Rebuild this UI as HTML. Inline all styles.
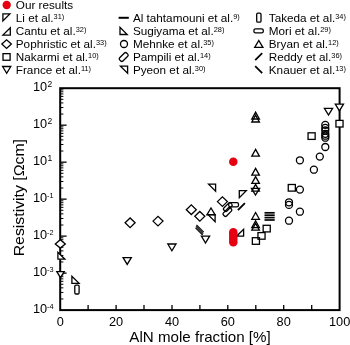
<!DOCTYPE html>
<html><head><meta charset="utf-8"><title>Resistivity vs AlN mole fraction</title>
<style>
html,body{margin:0;padding:0;background:#fff;}
body{width:350px;height:345px;overflow:hidden;}
svg{display:block;will-change:transform;font-family:"Liberation Sans",sans-serif;fill:#000;}
.m{fill:#fff;stroke:#000;stroke-width:1.3;stroke-linejoin:miter;}
.open .m{fill:none;}
</style></head><body>
<svg width="350" height="345" viewBox="0 0 350 345">
<rect width="350" height="345" fill="#fff"/>
<rect x="60.2" y="88.2" width="279.4" height="221.9" fill="none" stroke="#000" stroke-width="2"/>
<path d="M88.1 310.1V305.1" stroke="#000" stroke-width="1.3"/>
<path d="M116.1 310.1V305.1" stroke="#000" stroke-width="1.3"/>
<path d="M144.0 310.1V305.1" stroke="#000" stroke-width="1.3"/>
<path d="M172.0 310.1V305.1" stroke="#000" stroke-width="1.3"/>
<path d="M199.9 310.1V305.1" stroke="#000" stroke-width="1.3"/>
<path d="M227.8 310.1V305.1" stroke="#000" stroke-width="1.3"/>
<path d="M255.8 310.1V305.1" stroke="#000" stroke-width="1.3"/>
<path d="M283.7 310.1V305.1" stroke="#000" stroke-width="1.3"/>
<path d="M311.7 310.1V305.1" stroke="#000" stroke-width="1.3"/>
<path d="M60.2 114.05H63.4" stroke="#000" stroke-width="1"/>
<path d="M60.2 107.54H63.4" stroke="#000" stroke-width="1"/>
<path d="M60.2 102.92H63.4" stroke="#000" stroke-width="1"/>
<path d="M60.2 99.33H63.4" stroke="#000" stroke-width="1"/>
<path d="M60.2 96.40H63.4" stroke="#000" stroke-width="1"/>
<path d="M60.2 93.93H63.4" stroke="#000" stroke-width="1"/>
<path d="M60.2 91.78H63.4" stroke="#000" stroke-width="1"/>
<path d="M60.2 89.89H63.4" stroke="#000" stroke-width="1"/>
<path d="M60.2 151.03H63.4" stroke="#000" stroke-width="1"/>
<path d="M60.2 144.52H63.4" stroke="#000" stroke-width="1"/>
<path d="M60.2 139.90H63.4" stroke="#000" stroke-width="1"/>
<path d="M60.2 136.32H63.4" stroke="#000" stroke-width="1"/>
<path d="M60.2 133.39H63.4" stroke="#000" stroke-width="1"/>
<path d="M60.2 130.91H63.4" stroke="#000" stroke-width="1"/>
<path d="M60.2 128.77H63.4" stroke="#000" stroke-width="1"/>
<path d="M60.2 126.88H63.4" stroke="#000" stroke-width="1"/>
<path d="M60.2 125.18H66.6" stroke="#000" stroke-width="1.3"/>
<path d="M60.2 188.02H63.4" stroke="#000" stroke-width="1"/>
<path d="M60.2 181.50H63.4" stroke="#000" stroke-width="1"/>
<path d="M60.2 176.88H63.4" stroke="#000" stroke-width="1"/>
<path d="M60.2 173.30H63.4" stroke="#000" stroke-width="1"/>
<path d="M60.2 170.37H63.4" stroke="#000" stroke-width="1"/>
<path d="M60.2 167.90H63.4" stroke="#000" stroke-width="1"/>
<path d="M60.2 165.75H63.4" stroke="#000" stroke-width="1"/>
<path d="M60.2 163.86H63.4" stroke="#000" stroke-width="1"/>
<path d="M60.2 162.17H66.6" stroke="#000" stroke-width="1.3"/>
<path d="M60.2 225.00H63.4" stroke="#000" stroke-width="1"/>
<path d="M60.2 218.49H63.4" stroke="#000" stroke-width="1"/>
<path d="M60.2 213.87H63.4" stroke="#000" stroke-width="1"/>
<path d="M60.2 210.28H63.4" stroke="#000" stroke-width="1"/>
<path d="M60.2 207.35H63.4" stroke="#000" stroke-width="1"/>
<path d="M60.2 204.88H63.4" stroke="#000" stroke-width="1"/>
<path d="M60.2 202.73H63.4" stroke="#000" stroke-width="1"/>
<path d="M60.2 200.84H63.4" stroke="#000" stroke-width="1"/>
<path d="M60.2 199.15H66.6" stroke="#000" stroke-width="1.3"/>
<path d="M60.2 261.98H63.4" stroke="#000" stroke-width="1"/>
<path d="M60.2 255.47H63.4" stroke="#000" stroke-width="1"/>
<path d="M60.2 250.85H63.4" stroke="#000" stroke-width="1"/>
<path d="M60.2 247.27H63.4" stroke="#000" stroke-width="1"/>
<path d="M60.2 244.34H63.4" stroke="#000" stroke-width="1"/>
<path d="M60.2 241.86H63.4" stroke="#000" stroke-width="1"/>
<path d="M60.2 239.72H63.4" stroke="#000" stroke-width="1"/>
<path d="M60.2 237.83H63.4" stroke="#000" stroke-width="1"/>
<path d="M60.2 236.13H66.6" stroke="#000" stroke-width="1.3"/>
<path d="M60.2 298.97H63.4" stroke="#000" stroke-width="1"/>
<path d="M60.2 292.45H63.4" stroke="#000" stroke-width="1"/>
<path d="M60.2 287.83H63.4" stroke="#000" stroke-width="1"/>
<path d="M60.2 284.25H63.4" stroke="#000" stroke-width="1"/>
<path d="M60.2 281.32H63.4" stroke="#000" stroke-width="1"/>
<path d="M60.2 278.85H63.4" stroke="#000" stroke-width="1"/>
<path d="M60.2 276.70H63.4" stroke="#000" stroke-width="1"/>
<path d="M60.2 274.81H63.4" stroke="#000" stroke-width="1"/>
<path d="M60.2 273.12H66.6" stroke="#000" stroke-width="1.3"/>
<text x="60.2" y="325.6" font-size="12.75" text-anchor="middle" >0</text>
<text x="116.1" y="325.6" font-size="12.75" text-anchor="middle" >20</text>
<text x="172.0" y="325.6" font-size="12.75" text-anchor="middle" >40</text>
<text x="227.8" y="325.6" font-size="12.75" text-anchor="middle" >60</text>
<text x="283.7" y="325.6" font-size="12.75" text-anchor="middle" >80</text>
<text x="339.6" y="325.6" font-size="12.75" text-anchor="middle" >100</text>
<text x="47.2" y="91.3" font-size="12.75" text-anchor="end">10</text>
<text x="47.5" y="86.9" font-size="8.5">2</text>
<text x="47.2" y="128.3" font-size="12.75" text-anchor="end">10</text>
<text x="47.5" y="123.9" font-size="8.5">2</text>
<text x="47.2" y="165.3" font-size="12.75" text-anchor="end">10</text>
<text x="47.5" y="160.9" font-size="8.5">1</text>
<text x="47.2" y="202.2" font-size="12.75" text-anchor="end">10</text>
<text x="47.0" y="198.2" font-size="7.3">&#8208;1</text>
<text x="47.2" y="239.2" font-size="12.75" text-anchor="end">10</text>
<text x="47.0" y="235.1" font-size="7.3">&#8208;2</text>
<text x="47.2" y="276.2" font-size="12.75" text-anchor="end">10</text>
<text x="47.0" y="272.1" font-size="7.3">&#8208;3</text>
<text x="47.2" y="313.2" font-size="12.75" text-anchor="end">10</text>
<text x="47.0" y="309.1" font-size="7.3">&#8208;4</text>
<text x="200.0" y="341.6" font-size="15.15" text-anchor="middle" >AlN mole fraction [%]</text>
<text transform="translate(23.8 256.3) rotate(-90)" font-size="14.4" textLength="117.3" lengthAdjust="spacingAndGlyphs">Resistivity [&#937;cm]</text>
<circle cx="6.7" cy="5.0" r="4.2" fill="#e60012"/>
<text x="15.8" y="9.2" font-size="11.72">Our results</text>
<text x="15.8" y="22.2" font-size="11.72">Li et al.<tspan font-size="7.4" dy="-3.6">31)</tspan></text>
<text x="15.8" y="35.2" font-size="11.72">Cantu et al.<tspan font-size="7.4" dy="-3.6">32)</tspan></text>
<text x="15.8" y="48.2" font-size="11.72">Pophristic et al.<tspan font-size="7.4" dy="-3.6">33)</tspan></text>
<text x="15.8" y="61.3" font-size="11.72">Nakarmi et al.<tspan font-size="7.4" dy="-3.6">10)</tspan></text>
<text x="15.8" y="74.3" font-size="11.72">France et al.<tspan font-size="7.4" dy="-3.6">11)</tspan></text>
<text x="132.9" y="22.2" font-size="11.72">Al tahtamouni et al.<tspan font-size="7.4" dy="-3.6">9)</tspan></text>
<text x="132.9" y="35.2" font-size="11.72">Sugiyama et al.<tspan font-size="7.4" dy="-3.6">28)</tspan></text>
<text x="132.9" y="48.2" font-size="11.72">Mehnke et al.<tspan font-size="7.4" dy="-3.6">35)</tspan></text>
<text x="132.9" y="61.3" font-size="11.72">Pampili et al.<tspan font-size="7.4" dy="-3.6">14)</tspan></text>
<text x="132.9" y="74.3" font-size="11.72">Pyeon et al.<tspan font-size="7.4" dy="-3.6">30)</tspan></text>
<text x="268.8" y="22.2" font-size="11.72">Takeda et al.<tspan font-size="7.4" dy="-3.6">34)</tspan></text>
<text x="268.8" y="35.2" font-size="11.72">Mori et al.<tspan font-size="7.4" dy="-3.6">29)</tspan></text>
<text x="268.8" y="48.2" font-size="11.72">Bryan et al.<tspan font-size="7.4" dy="-3.6">12)</tspan></text>
<text x="268.8" y="61.3" font-size="11.72">Reddy et al.<tspan font-size="7.4" dy="-3.6">36)</tspan></text>
<text x="268.8" y="74.3" font-size="11.72">Knauer et al.<tspan font-size="7.4" dy="-3.6">13)</tspan></text>
<path d="M2.9 13.9L9.9 13.9L2.9 21.0Z" class="m"/>
<path d="M2.9 35.1L10.3 35.1L10.3 27.8Z" class="m"/>
<path d="M1.85 44.10L6.60 39.80L11.35 44.10L6.60 48.40Z" class="m"/>
<rect x="3.00" y="53.65" width="7.1" height="6.6" class="m"/>
<path d="M2.6 66.5L10.8 66.5L6.7 73.3Z" class="m"/>
<path d="M118.6 17.8H128.8" stroke="#000" stroke-width="2.0" fill="none"/>
<path d="M120.0 27.3L120.0 34.5L127.2 34.5Z" class="m"/>
<circle cx="124.0" cy="44.0" r="3.5" class="m"/>
<rect x="121.4" y="52.1" width="4.6" height="9.8" rx="1.5" class="m" transform="rotate(45 123.7 57.0)"/>
<path d="M120.4 66.1L127.6 66.1L127.6 73.3Z" class="m"/>
<rect x="256.7" y="13.2" width="4.3" height="8.9" rx="1.2" class="m"/>
<rect x="253.9" y="28.8" width="9.4" height="4.0" rx="1.6" class="m"/>
<path d="M254.7 47.3L262.9 47.3L258.8 40.5Z" class="m"/>
<path d="M255.2 60.2L262.2 53.2" stroke="#000" stroke-width="1.8" fill="none"/>
<path d="M255.2 66.2L262.2 73.2" stroke="#000" stroke-width="1.8" fill="none"/>
<g class="open">
<path d="M125.10 222.80L130.10 218.00L135.10 222.80L130.10 227.60Z" class="m"/>
<path d="M153.00 221.10L158.00 216.30L163.00 221.10L158.00 225.90Z" class="m"/>
<path d="M186.30 209.70L191.30 204.90L196.30 209.70L191.30 214.50Z" class="m"/>
<path d="M194.80 216.30L199.80 211.50L204.80 216.30L199.80 221.10Z" class="m"/>
<path d="M217.40 201.60L222.40 196.80L227.40 201.60L222.40 206.40Z" class="m"/>
<path d="M123.1 257.6L131.3 257.6L127.2 264.4Z" class="m"/>
<path d="M167.8 244.0L176.0 244.0L171.9 250.8Z" class="m"/>
<path d="M201.4 236.2L209.6 236.2L205.5 243.0Z" class="m"/>
<path d="M251.4 188.3L259.6 188.3L255.5 195.1Z" class="m"/>
<path d="M324.4 108.3L332.6 108.3L328.5 115.1Z" class="m"/>
<path d="M71.9 276.2L71.9 283.4L79.1 283.4Z" class="m"/>
<rect x="74.8" y="285.1" width="4.3" height="8.9" rx="1.2" class="m"/>
<path d="M251.8 119.0L259.4 119.0L255.6 112.2Z" class="m"/>
<path d="M251.8 122.0L259.4 122.0L255.6 115.2Z" class="m"/>
<path d="M251.8 156.2L259.4 156.2L255.6 149.4Z" class="m"/>
<path d="M251.8 175.2L259.4 175.2L255.6 168.4Z" class="m"/>
<path d="M251.8 183.4L259.4 183.4L255.6 176.6Z" class="m"/>
<path d="M251.8 191.2L259.4 191.2L255.6 184.4Z" class="m"/>
<path d="M251.8 219.3L259.4 219.3L255.6 212.5Z" class="m"/>
<path d="M251.8 227.6L259.4 227.6L255.6 220.8Z" class="m"/>
<path d="M251.8 230.2L259.4 230.2L255.6 223.4Z" class="m"/>
<path d="M206.9 214.8L215.1 214.8L211.0 208.0Z" class="m"/>
<path d="M208.1 214.7L215.1 214.7L215.1 221.7Z" class="m"/>
<path d="M208.6 184.2L215.6 184.2L215.6 191.2Z" class="m"/>
<path d="M196.5 225.0L203.7 232.2" stroke="#000" stroke-width="1.15" fill="none"/>
<path d="M196.0 226.4L203.2 233.6" stroke="#000" stroke-width="1.15" fill="none"/>
<path d="M195.5 227.8L202.7 235.0" stroke="#000" stroke-width="1.15" fill="none"/>
<rect x="225.6" y="202.2" width="4.4" height="9.8" rx="1.5" class="m" transform="rotate(45 227.8 207.1)"/>
<rect x="225.2" y="207.1" width="4.4" height="9.8" rx="1.5" class="m" transform="rotate(45 227.4 212.0)"/>
<rect x="228.7" y="202.7" width="9.8" height="4.2" rx="1.6" class="m"/>
<path d="M239.3 190.6L246.3 190.6L239.3 197.6Z" class="m"/>
<path d="M237.9 210.2L244.9 203.2" stroke="#000" stroke-width="1.8" fill="none"/>
<path d="M236.6 236.2L243.6 236.2L243.6 229.2Z" class="m"/>
<path d="M264.5 212.8H274.7" stroke="#000" stroke-width="1.7" fill="none"/>
<path d="M264.5 215.2H274.7" stroke="#000" stroke-width="1.7" fill="none"/>
<path d="M264.5 217.6H274.7" stroke="#000" stroke-width="1.7" fill="none"/>
<path d="M264.5 220.0H274.7" stroke="#000" stroke-width="1.7" fill="none"/>
<rect x="263.15" y="225.30" width="7.1" height="6.6" class="m"/>
<rect x="257.95" y="232.60" width="7.1" height="6.6" class="m"/>
<rect x="252.35" y="237.70" width="7.1" height="6.6" class="m"/>
<rect x="288.25" y="184.50" width="7.1" height="6.6" class="m"/>
<rect x="308.05" y="132.80" width="7.1" height="6.6" class="m"/>
<circle cx="325.3" cy="124.9" r="3.5" class="m"/>
<circle cx="325.3" cy="127.9" r="3.5" class="m"/>
<circle cx="325.3" cy="130.5" r="3.5" class="m"/>
<circle cx="325.3" cy="133.8" r="3.5" class="m"/>
<circle cx="325.3" cy="135.7" r="3.5" class="m"/>
<circle cx="325.3" cy="137.7" r="3.5" class="m"/>
<circle cx="325.3" cy="147.0" r="3.5" class="m"/>
<circle cx="319.8" cy="156.6" r="3.5" class="m"/>
<circle cx="299.9" cy="160.3" r="3.5" class="m"/>
<circle cx="313.9" cy="169.7" r="3.5" class="m"/>
<circle cx="299.9" cy="189.6" r="3.5" class="m"/>
<circle cx="289.0" cy="202.3" r="3.5" class="m"/>
<circle cx="289.0" cy="204.9" r="3.5" class="m"/>
<circle cx="299.9" cy="211.7" r="3.5" class="m"/>
<circle cx="289.0" cy="220.7" r="3.5" class="m"/>
</g>
<path d="M55.30 243.90L60.30 239.70L65.30 243.90L60.30 248.10Z" class="m"/>
<path d="M57.9 252.2L57.9 259.2L64.9 259.2Z" class="m"/>
<path d="M56.8 271.7L64.2 271.7L60.5 277.7Z" class="m"/>
<path d="M335.3 104.1L343.5 104.1L339.4 110.9Z" class="m"/>
<rect x="335.95" y="120.40" width="7.1" height="6.6" class="m"/>
<circle cx="233.3" cy="161.8" r="4.25" fill="#e60012"/>
<circle cx="233.3" cy="232.3" r="4.25" fill="#e60012"/>
<circle cx="233.3" cy="234.6" r="4.25" fill="#e60012"/>
<circle cx="233.3" cy="237.0" r="4.25" fill="#e60012"/>
<circle cx="233.3" cy="239.5" r="4.25" fill="#e60012"/>
<circle cx="233.3" cy="242.3" r="4.25" fill="#e60012"/>
</svg>
</body></html>
